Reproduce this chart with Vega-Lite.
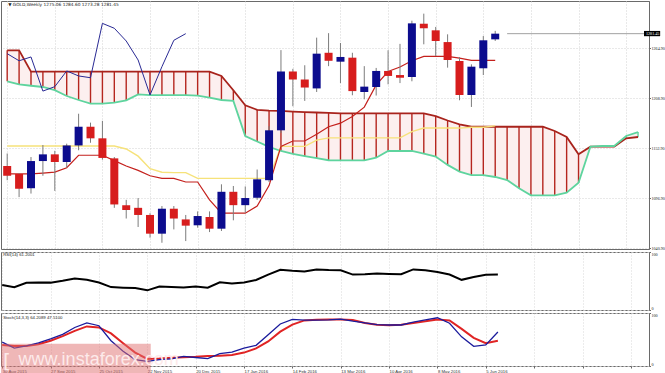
{
  "$schema": "https://vega.github.io/schema/vega-lite/v6.json",
  "padding": 0,
  "background": "white",
  "spacing": 3,
  "bounds": "flush",
  "config": {"view": {"stroke": "#6a6a6a", "strokeWidth": 1}, "font": "Liberation Sans"},
  "datasets": {
    "px": [
      {"d":"2015-08-30","o":1133,"h":1147,"l":1117,"c":1122,"t":1124,"k":1155.4},
      {"d":"2015-09-06","o":1124,"h":1125,"l":1098,"c":1107.5,"t":1124,"k":1155.4},
      {"d":"2015-09-13","o":1108,"h":1143,"l":1102,"c":1138.5,"t":1124,"k":1155.4},
      {"d":"2015-09-20","o":1138.5,"h":1156.5,"l":1122,"c":1146,"t":1125,"k":1155.4},
      {"d":"2015-09-27","o":1146,"h":1150,"l":1105,"c":1137.4,"t":1126,"k":1155.4},
      {"d":"2015-10-04","o":1137.4,"h":1158,"l":1131,"c":1156,"t":1131,"k":1155.4},
      {"d":"2015-10-11","o":1156,"h":1191.6,"l":1150.6,"c":1177,"t":1145,"k":1155.4},
      {"d":"2015-10-18","o":1177,"h":1181.6,"l":1159,"c":1164,"t":1145,"k":1155.4},
      {"d":"2015-10-25","o":1164,"h":1183.6,"l":1140,"c":1142,"t":1145,"k":1155.4},
      {"d":"2015-11-01","o":1141.5,"h":1143,"l":1086,"c":1089.8,"t":1139,"k":1155.4},
      {"d":"2015-11-08","o":1089,"h":1095,"l":1074,"c":1083.5,"t":1133,"k":1152},
      {"d":"2015-11-15","o":1086,"h":1097,"l":1064.5,"c":1078,"t":1128,"k":1144},
      {"d":"2015-11-22","o":1078,"h":1080,"l":1052.5,"c":1057,"t":1122,"k":1130},
      {"d":"2015-11-29","o":1057,"h":1088,"l":1046.8,"c":1085,"t":1119,"k":1126},
      {"d":"2015-12-06","o":1085,"h":1088,"l":1061.8,"c":1074,"t":1119,"k":1125.5},
      {"d":"2015-12-13","o":1073,"h":1078,"l":1048.7,"c":1066,"t":1115,"k":1125.5},
      {"d":"2015-12-20","o":1066.4,"h":1082,"l":1063.7,"c":1076.8,"t":1115,"k":1119},
      {"d":"2015-12-27","o":1075.7,"h":1082,"l":1058.8,"c":1062.6,"t":1095,"k":1119},
      {"d":"2016-01-03","o":1062.6,"h":1112.4,"l":1060,"c":1104,"t":1080,"k":1119},
      {"d":"2016-01-10","o":1104,"h":1110.5,"l":1072,"c":1089,"t":1080,"k":1119},
      {"d":"2016-01-17","o":1089,"h":1110,"l":1080.5,"c":1097,"t":1080,"k":1119},
      {"d":"2016-01-24","o":1097.3,"h":1129,"l":1095,"c":1118,"t":1088,"k":1119},
      {"d":"2016-01-31","o":1117,"h":1177.6,"l":1115,"c":1173,"t":1111,"k":1119},
      {"d":"2016-02-07","o":1173,"h":1263,"l":1170,"c":1239,"t":1155,"k":1155},
      {"d":"2016-02-14","o":1239,"h":1242,"l":1200,"c":1230,"t":1161,"k":1155},
      {"d":"2016-02-21","o":1230,"h":1246,"l":1206,"c":1221,"t":1161,"k":1155},
      {"d":"2016-02-28","o":1220,"h":1277,"l":1216,"c":1259,"t":1168.5,"k":1162},
      {"d":"2016-03-06","o":1260,"h":1282,"l":1245,"c":1251,"t":1177,"k":1164.5},
      {"d":"2016-03-13","o":1250,"h":1271,"l":1226,"c":1255.3,"t":1181,"k":1164.5},
      {"d":"2016-03-20","o":1254.5,"h":1260,"l":1212.3,"c":1217,"t":1188.5,"k":1164.5},
      {"d":"2016-03-27","o":1216,"h":1245,"l":1207.8,"c":1222,"t":1199,"k":1164.5},
      {"d":"2016-04-03","o":1221.6,"h":1243,"l":1212,"c":1239.6,"t":1224,"k":1164.5},
      {"d":"2016-04-10","o":1239.6,"h":1262.8,"l":1224.6,"c":1234,"t":1239,"k":1164.5},
      {"d":"2016-04-17","o":1235,"h":1270,"l":1226,"c":1232,"t":1244,"k":1164.5},
      {"d":"2016-04-24","o":1232.8,"h":1296,"l":1228,"c":1293,"t":1251,"k":1171.5},
      {"d":"2016-05-01","o":1292.6,"h":1303.9,"l":1269.5,"c":1287.5,"t":1256,"k":1175.5},
      {"d":"2016-05-08","o":1285.2,"h":1289,"l":1256.4,"c":1273.2,"t":1256,"k":1175.5},
      {"d":"2016-05-15","o":1272,"h":1280.7,"l":1243.3,"c":1251.9,"t":1256,"k":1175.5},
      {"d":"2016-05-22","o":1250.8,"h":1255,"l":1206.7,"c":1212.6,"t":1254,"k":1175.5},
      {"d":"2016-05-29","o":1212.6,"h":1247,"l":1199.2,"c":1244.4,"t":1251.5,"k":1176.5},
      {"d":"2016-06-05","o":1242.6,"h":1278.8,"l":1235,"c":1274,"t":1251.5,"k":1176.5},
      {"d":"2016-06-12","o":1275.06,"h":1284.6,"l":1273.28,"c":1281.45,"t":1251.5,"k":1178}
    ],
    "chikou": [
      {"d":"2015-08-30","v":1259},{"d":"2015-09-06","v":1251},{"d":"2015-09-13","v":1255.3},
      {"d":"2015-09-20","v":1217},{"d":"2015-09-27","v":1222},{"d":"2015-10-04","v":1239.6},
      {"d":"2015-10-11","v":1234},{"d":"2015-10-18","v":1232},{"d":"2015-10-25","v":1293},
      {"d":"2015-11-01","v":1287.5},{"d":"2015-11-08","v":1273.2},{"d":"2015-11-15","v":1251.9},
      {"d":"2015-11-22","v":1212.6},{"d":"2015-11-29","v":1244.4},{"d":"2015-12-06","v":1274},
      {"d":"2015-12-13","v":1281.45}
    ],
    "cloud": [
      {"d":"2015-08-30","a":1262.8,"b":1228},{"d":"2015-09-06","a":1262.8,"b":1224.6},
      {"d":"2015-09-13","a":1238.8,"b":1223},{"d":"2015-09-20","a":1238.8,"b":1221.6},
      {"d":"2015-09-27","a":1238.8,"b":1218},{"d":"2015-10-04","a":1238.8,"b":1211.5},
      {"d":"2015-10-11","a":1238.8,"b":1207},{"d":"2015-10-18","a":1238.8,"b":1203},
      {"d":"2015-10-25","a":1238.8,"b":1203},{"d":"2015-11-01","a":1238.8,"b":1204},
      {"d":"2015-11-08","a":1238.8,"b":1206.6},{"d":"2015-11-15","a":1238.8,"b":1213.3},
      {"d":"2015-11-22","a":1238.8,"b":1212.5},{"d":"2015-11-29","a":1238.8,"b":1212.5},
      {"d":"2015-12-06","a":1238.8,"b":1212.5},{"d":"2015-12-13","a":1238.8,"b":1212.5},
      {"d":"2015-12-20","a":1238.8,"b":1212},{"d":"2015-12-27","a":1238.8,"b":1209.6},
      {"d":"2016-01-03","a":1234,"b":1207},{"d":"2016-01-10","a":1218,"b":1206},
      {"d":"2016-01-17","a":1201,"b":1166.6},{"d":"2016-01-24","a":1196,"b":1160.4},
      {"d":"2016-01-31","a":1195,"b":1154.5},{"d":"2016-02-07","a":1194.7,"b":1149.8},
      {"d":"2016-02-14","a":1194,"b":1146.5},{"d":"2016-02-21","a":1193.5,"b":1144},
      {"d":"2016-02-28","a":1193,"b":1141.7},{"d":"2016-03-06","a":1192.5,"b":1139.4},
      {"d":"2016-03-13","a":1192,"b":1139.3},{"d":"2016-03-20","a":1192,"b":1139.3},
      {"d":"2016-03-27","a":1192,"b":1139.3},{"d":"2016-04-03","a":1192,"b":1142.2},
      {"d":"2016-04-10","a":1192,"b":1149.8},{"d":"2016-04-17","a":1192,"b":1149.8},
      {"d":"2016-04-24","a":1192,"b":1149.8},{"d":"2016-05-01","a":1192,"b":1146.8},
      {"d":"2016-05-08","a":1189,"b":1143.5},{"d":"2016-05-15","a":1184,"b":1134.2},
      {"d":"2016-05-22","a":1179.7,"b":1126.7},{"d":"2016-05-29","a":1177,"b":1122.8},
      {"d":"2016-06-05","a":1177,"b":1122.8},{"d":"2016-06-12","a":1177,"b":1120.6},
      {"d":"2016-06-19","a":1177,"b":1117.2},{"d":"2016-06-26","a":1177,"b":1107.9},
      {"d":"2016-07-03","a":1177,"b":1100},{"d":"2016-07-10","a":1177,"b":1100},
      {"d":"2016-07-17","a":1172.2,"b":1100},{"d":"2016-07-24","a":1165.5,"b":1103},
      {"d":"2016-07-31","a":1146,"b":1114.2},{"d":"2016-08-07","a":1154.6,"b":1154.6},
      {"d":"2016-08-14","a":1154.6,"b":1155.4},{"d":"2016-08-21","a":1154.6,"b":1155.4},
      {"d":"2016-08-28","a":1164,"b":1166.6},{"d":"2016-09-04","a":1165.5,"b":1171}
    ],
    "osc": [
      {"d":"2015-08-30","r":43,"k":45,"s":39.8},{"d":"2015-09-06","r":39.4,"k":33.9,"s":37.8},
      {"d":"2015-09-13","r":47,"k":37.8,"s":37.8},{"d":"2015-09-20","r":47.5,"k":43.7,"s":41},
      {"d":"2015-09-27","r":47.2,"k":51,"s":47.7},{"d":"2015-10-04","r":50.5,"k":59.6,"s":56.3},
      {"d":"2015-10-11","r":54.4,"k":72.7,"s":66.2},{"d":"2015-10-18","r":52,"k":81.3,"s":74.7},
      {"d":"2015-10-25","r":47.5,"k":76,"s":72.7},{"d":"2015-11-01","r":39.5,"k":47.7,"s":61.5},
      {"d":"2015-11-08","r":38.5,"k":28,"s":43},{"d":"2015-11-15","r":37.8,"k":12,"s":25.3},
      {"d":"2015-11-22","r":33.9,"k":8.8,"s":13.4},{"d":"2015-11-29","r":40.4,"k":12,"s":14},
      {"d":"2015-12-06","r":39.8,"k":13.4,"s":15.4},{"d":"2015-12-13","r":39,"k":18,"s":16.7},
      {"d":"2015-12-20","r":40.6,"k":16,"s":17.4},{"d":"2015-12-27","r":38.5,"k":14,"s":18.7},
      {"d":"2016-01-03","r":47.8,"k":23.3,"s":19.4},{"d":"2016-01-10","r":45.6,"k":26,"s":20.7},
      {"d":"2016-01-17","r":47.5,"k":33.9,"s":25.3},{"d":"2016-01-24","r":51.7,"k":39,"s":33.2},
      {"d":"2016-01-31","r":61,"k":59,"s":46.4},{"d":"2016-02-07","r":69.4,"k":79.3,"s":64.8},
      {"d":"2016-02-14","r":67.5,"k":88,"s":78},{"d":"2016-02-21","r":66.5,"k":86.6,"s":86},
      {"d":"2016-02-28","r":70,"k":86.6,"s":87.2},{"d":"2016-03-06","r":69,"k":87,"s":87.9},
      {"d":"2016-03-13","r":68.5,"k":88.6,"s":87.9},{"d":"2016-03-20","r":61,"k":84.6,"s":86.6},
      {"d":"2016-03-27","r":61.5,"k":81.3,"s":81.3},{"d":"2016-04-03","r":62.8,"k":78,"s":78},
      {"d":"2016-04-10","r":62.2,"k":77.4,"s":76.7},{"d":"2016-04-17","r":61.7,"k":77.4,"s":78},
      {"d":"2016-04-24","r":70,"k":82.6,"s":81.3},{"d":"2016-05-01","r":68.5,"k":87.2,"s":84.6},
      {"d":"2016-05-08","r":65.5,"k":91,"s":87.9},{"d":"2016-05-15","r":61.2,"k":80.7,"s":86},
      {"d":"2016-05-22","r":52,"k":55,"s":70},{"d":"2016-05-29","r":57,"k":37.2,"s":53},
      {"d":"2016-06-05","r":60.6,"k":39.8,"s":43},{"d":"2016-06-12","r":61.2,"k":64.2,"s":47.5}
    ]
  },
  "vconcat": [
    {
      "width": 648,
      "height": 248,
      "layer": [
        {
          "data": {"name": "cloud"},
          "mark": {"type": "area", "color": "#fcefef", "clip": true},
          "encoding": {
            "x": {"field": "d", "type": "temporal", "title": null,
              "scale": {"type": "utc", "domain": [1440832320000, 1473249600000]},
              "axis": {"values": [1440892800000,1441497600000,1442102400000,1442707200000,1443312000000,1443916800000,1444521600000,1445126400000,1445731200000,1446336000000,1446940800000,1447545600000,1448150400000,1448755200000,1449360000000,1449964800000,1450569600000,1451174400000,1451779200000,1452384000000,1452988800000,1453593600000,1454198400000,1454803200000,1455408000000,1456012800000,1456617600000,1457222400000,1457827200000,1458432000000,1459036800000,1459641600000,1460246400000,1460851200000,1461456000000,1462060800000,1462665600000,1463270400000,1463875200000,1464480000000,1465084800000,1465689600000,1466294400000,1466899200000,1467504000000,1468108800000,1468713600000,1469318400000,1469923200000,1470528000000,1471132800000,1471737600000,1472342400000,1472947200000],
                "labels": false, "ticks": false, "domain": false, "grid": true, "gridColor": "#d2d2d2", "gridDash": [1, 2], "minExtent": 0, "maxExtent": 0, "title": null}},
            "y": {"field": "a", "type": "quantitative", "title": null,
              "scale": {"domain": [1039.8, 1318.1], "nice": false, "zero": false},
              "axis": {"orient": "right", "values": [1040.9,1054.9,1068.9,1082.9,1096.9,1110.9,1124.9,1138.9,1152.9,1166.9,1180.9,1194.9,1208.9,1222.9,1236.9,1250.9,1264.9,1278.9,1292.9,1306.9],
                "format": ".2f", "labelFont": "Liberation Sans Narrow", "labelFontSize": 4.1, "labelColor": "#222", "labelPadding": 0.5, "tickSize": 1.5, "tickColor": "#666",
                "domainColor": "#6a6a6a", "grid": true, "gridColor": "#d2d2d2", "gridDash": [1, 2], "labelOverlap": false, "title": null}},
            "y2": {"field": "b"}
          }
        },
        {
          "data": {"name": "cloud"},
          "mark": {"type": "rule", "strokeWidth": 1.4, "clip": true},
          "encoding": {
            "x": {"field": "d", "type": "temporal"},
            "y": {"field": "a", "type": "quantitative"},
            "y2": {"field": "b"},
            "color": {"condition": {"test": "datum.a >= datum.b", "value": "#b5261f"}, "value": "#5ed49e"}
          }
        },
        {
          "data": {"name": "cloud"},
          "mark": {"type": "line", "color": "#a8231c", "strokeWidth": 1.8, "clip": true},
          "encoding": {"x": {"field": "d", "type": "temporal"}, "y": {"field": "a", "type": "quantitative"}}
        },
        {
          "data": {"name": "cloud"},
          "mark": {"type": "line", "color": "#5ed49e", "strokeWidth": 1.8, "clip": true},
          "encoding": {"x": {"field": "d", "type": "temporal"}, "y": {"field": "b", "type": "quantitative"}}
        },
        {
          "data": {"name": "px"},
          "mark": {"type": "line", "color": "#f6e27a", "strokeWidth": 1.4, "clip": true},
          "encoding": {"x": {"field": "d", "type": "temporal"}, "y": {"field": "k", "type": "quantitative"}}
        },
        {
          "data": {"name": "px"},
          "mark": {"type": "line", "color": "#c4201c", "strokeWidth": 1.2, "clip": true},
          "encoding": {"x": {"field": "d", "type": "temporal"}, "y": {"field": "t", "type": "quantitative"}}
        },
        {
          "data": {"name": "chikou"},
          "mark": {"type": "line", "color": "#2a2a94", "strokeWidth": 1, "clip": true},
          "encoding": {"x": {"field": "d", "type": "temporal"}, "y": {"field": "v", "type": "quantitative"}}
        },
        {
          "data": {"name": "px"},
          "mark": {"type": "rule", "color": "#7c7c7c", "strokeWidth": 1, "clip": true},
          "encoding": {"x": {"field": "d", "type": "temporal"}, "y": {"field": "l", "type": "quantitative"}, "y2": {"field": "h"}}
        },
        {
          "data": {"name": "px"},
          "mark": {"type": "bar", "size": 8, "clip": true},
          "encoding": {
            "x": {"field": "d", "type": "temporal"},
            "y": {"field": "o", "type": "quantitative"},
            "y2": {"field": "c"},
            "color": {"condition": {"test": "datum.c >= datum.o", "value": "#0c0c8e"}, "value": "#d71d1d"}
          }
        },
        {
          "data": {"values": [{}]},
          "mark": {"type": "rule", "color": "#8a8a8a", "strokeWidth": 0.8, "clip": true},
          "encoding": {
            "x": {"datum": {"year": 2016, "month": 6, "date": 19, "utc": true}, "type": "temporal"},
            "x2": {"datum": {"year": 2016, "month": 9, "date": 8, "utc": true}},
            "y": {"datum": 1281.45}
          }
        },
        {
          "data": {"values": [{}]},
          "mark": {"type": "rect", "color": "#000000", "clip": false},
          "encoding": {
            "x": {"datum": {"year": 2016, "month": 9, "date": 7, "hours": 12, "utc": true}, "type": "temporal"},
            "x2": {"datum": {"year": 2016, "month": 9, "date": 17, "utc": true}},
            "y": {"datum": 1284.5},
            "y2": {"datum": 1278.6}
          }
        },
        {
          "data": {"values": [{}]},
          "mark": {"type": "text", "color": "#ffffff", "fontSize": 4.1, "font": "Liberation Sans Narrow", "align": "left", "baseline": "middle", "dx": 2, "clip": false},
          "encoding": {
            "x": {"datum": {"year": 2016, "month": 9, "date": 7, "hours": 12, "utc": true}, "type": "temporal"},
            "y": {"datum": 1281.5},
            "text": {"value": "1281.45"}
          }
        },
        {
          "data": {"values": [{}]},
          "mark": {"type": "text", "color": "#222222", "fontSize": 4.3, "font": "DejaVu Sans", "align": "left", "baseline": "middle", "dx": 1, "clip": false},
          "encoding": {
            "x": {"datum": {"year": 2015, "month": 8, "date": 30, "utc": true}, "type": "temporal"},
            "y": {"datum": 1313.6},
            "text": {"value": "▼ GOLD,Weekly  1275.06 1284.60 1273.28 1281.45"}
          }
        }
      ]
    },
    {
      "width": 648,
      "height": 58,
      "layer": [
        {
          "data": {"name": "osc"},
          "mark": {"type": "line", "color": "#000000", "strokeWidth": 2, "clip": true},
          "encoding": {
            "x": {"field": "d", "type": "temporal", "title": null,
              "scale": {"type": "utc", "domain": [1440832320000, 1473249600000]},
              "axis": {"values": [1440892800000,1441497600000,1442102400000,1442707200000,1443312000000,1443916800000,1444521600000,1445126400000,1445731200000,1446336000000,1446940800000,1447545600000,1448150400000,1448755200000,1449360000000,1449964800000,1450569600000,1451174400000,1451779200000,1452384000000,1452988800000,1453593600000,1454198400000,1454803200000,1455408000000,1456012800000,1456617600000,1457222400000,1457827200000,1458432000000,1459036800000,1459641600000,1460246400000,1460851200000,1461456000000,1462060800000,1462665600000,1463270400000,1463875200000,1464480000000,1465084800000,1465689600000,1466294400000,1466899200000,1467504000000,1468108800000,1468713600000,1469318400000,1469923200000,1470528000000,1471132800000,1471737600000,1472342400000,1472947200000],
                "labels": false, "ticks": false, "domain": false, "grid": true, "gridColor": "#d8d8d8", "gridDash": [1, 2], "minExtent": 0, "maxExtent": 0, "title": null}},
            "y": {"field": "r", "type": "quantitative", "title": null,
              "scale": {"domain": [0, 100], "nice": false},
              "axis": {"orient": "right", "values": [0, 30, 70, 100], "labelFont": "Liberation Sans Narrow", "labelFontSize": 4.1, "labelColor": "#222", "labelPadding": 0.5, "tickSize": 1.5, "tickColor": "#666", "labelFlush": true,
                "domainColor": "#6a6a6a", "grid": true, "gridColor": "#c4c4c4", "gridDash": [2, 2], "labelOverlap": false, "title": null}}
          }
        },
        {
          "data": {"values": [{}]},
          "mark": {"type": "text", "color": "#222222", "fontSize": 4.3, "align": "left", "baseline": "middle", "dx": 1, "clip": false},
          "encoding": {
            "x": {"datum": {"year": 2015, "month": 8, "date": 30, "utc": true}, "type": "temporal"},
            "y": {"datum": 94},
            "text": {"value": "RSI(14) 61.2001"}
          }
        }
      ]
    },
    {
      "width": 648,
      "height": 53,
      "layer": [
        {
          "data": {"name": "osc"},
          "mark": {"type": "line", "color": "#e02424", "strokeWidth": 2, "clip": true},
          "encoding": {
            "x": {"field": "d", "type": "temporal", "title": null,
              "scale": {"type": "utc", "domain": [1440832320000, 1473249600000]},
              "axis": {"orient": "bottom", "values": [1440892800000,1441497600000,1442102400000,1442707200000,1443312000000,1443916800000,1444521600000,1445126400000,1445731200000,1446336000000,1446940800000,1447545600000,1448150400000,1448755200000,1449360000000,1449964800000,1450569600000,1451174400000,1451779200000,1452384000000,1452988800000,1453593600000,1454198400000,1454803200000,1455408000000,1456012800000,1456617600000,1457222400000,1457827200000,1458432000000,1459036800000,1459641600000,1460246400000,1460851200000,1461456000000,1462060800000,1462665600000,1463270400000,1463875200000,1464480000000,1465084800000,1465689600000,1466294400000,1466899200000,1467504000000,1468108800000,1468713600000,1469318400000,1469923200000,1470528000000,1471132800000,1471737600000,1472342400000,1472947200000],
                "labelExpr": "(datum.value <= 1465084800000 && round((datum.value - 1440892800000) / 86400000) % 14 == 0) ? utcFormat(datum.value, '%-d %b %Y') : ''",
                "labelFontSize": 4.3, "labelColor": "#333", "labelAlign": "left", "labelPadding": 1, "labelOverlap": false, "labelFlush": false, "labelBound": false,
                "tickSize": 2, "tickColor": "#666", "domain": false, "grid": true, "gridColor": "#d8d8d8", "gridDash": [1, 2], "title": null}},
            "y": {"field": "s", "type": "quantitative", "title": null,
              "scale": {"domain": [0, 100], "nice": false},
              "axis": {"orient": "right", "values": [0, 20, 80, 100], "labelFont": "Liberation Sans Narrow", "labelFontSize": 4.1, "labelColor": "#222", "labelPadding": 0.5, "tickSize": 1.5, "tickColor": "#666", "labelFlush": true,
                "domainColor": "#6a6a6a", "grid": true, "gridColor": "#c4c4c4", "gridDash": [2, 2], "labelOverlap": false, "title": null}}
          }
        },
        {
          "data": {"name": "osc"},
          "mark": {"type": "line", "color": "#1b1b9c", "strokeWidth": 1.3, "clip": true},
          "encoding": {"x": {"field": "d", "type": "temporal"}, "y": {"field": "k", "type": "quantitative"}}
        },
        {
          "data": {"values": [{}]},
          "mark": {"type": "text", "color": "#222222", "fontSize": 4.3, "align": "left", "baseline": "middle", "dx": 1, "clip": false},
          "encoding": {
            "x": {"datum": {"year": 2015, "month": 8, "date": 30, "utc": true}, "type": "temporal"},
            "y": {"datum": 90},
            "text": {"value": "Stoch(14,3,3) 64.2089 47.5100"}
          }
        },
        {
          "data": {"values": [{}]},
          "mark": {"type": "rect", "color": "#df7070", "opacity": 0.5, "clip": false},
          "encoding": {
            "x": {"datum": {"year": 2015, "month": 8, "date": 29, "hours": 8, "utc": true}, "type": "temporal"},
            "x2": {"datum": {"year": 2015, "month": 11, "date": 24, "utc": true}},
            "y": {"datum": 42},
            "y2": {"datum": -15}
          }
        },
        {
          "data": {"values": [{}]},
          "mark": {"type": "text", "color": "#fdeaea", "fontSize": 20, "font": "DejaVu Sans", "fontWeight": "normal", "align": "left", "baseline": "alphabetic", "clip": false},
          "encoding": {
            "x": {"datum": {"year": 2015, "month": 8, "date": 30, "hours": 12, "utc": true}, "type": "temporal"},
            "y": {"datum": -3},
            "text": {"value": "["}
          }
        },
        {
          "data": {"values": [{}]},
          "mark": {"type": "text", "color": "#fdeaea", "fontSize": 18, "font": "Liberation Sans", "align": "left", "baseline": "alphabetic", "clip": false},
          "encoding": {
            "x": {"datum": {"year": 2015, "month": 9, "date": 8, "hours": 12, "utc": true}, "type": "temporal"},
            "y": {"datum": 2},
            "text": {"value": "www.instaforex.com"}
          }
        }
      ]
    }
  ]
}
